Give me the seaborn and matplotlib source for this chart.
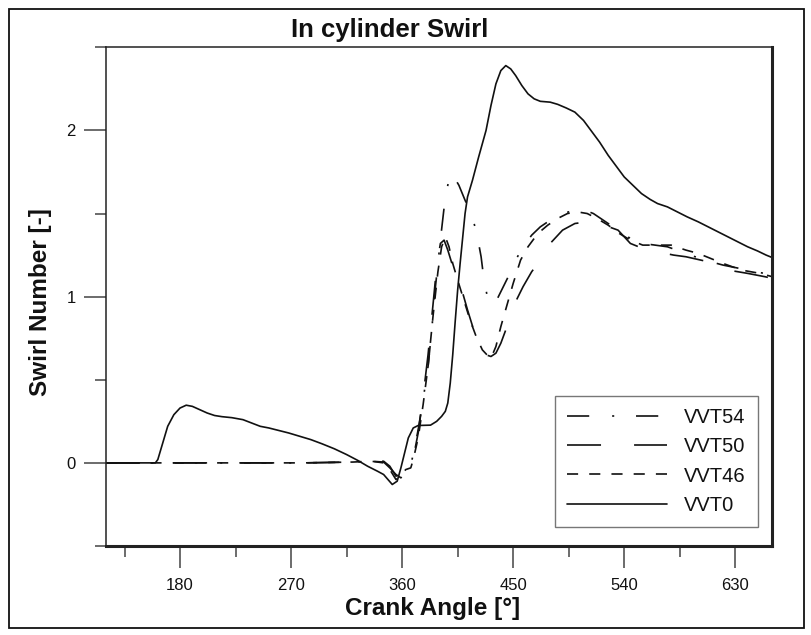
import numpy as np
import pandas as pd
import matplotlib
matplotlib.use("Agg")
import matplotlib.pyplot as plt
import seaborn as sns
from matplotlib.patches import Rectangle
from matplotlib.ticker import MultipleLocator

sns.set_theme(style="white")
plt.rcParams['font.family'] = ['Liberation Sans', 'DejaVu Sans']
plt.rcParams['lines.scale_dashes'] = False

# ---------------- data ----------------
vvt0_x = [120, 160, 162, 166, 170, 175, 180, 185, 190, 196, 202, 208, 214, 222, 231, 238, 245,
          252, 260, 268, 277, 286, 295, 305, 315, 324, 332, 340, 345, 352, 356, 359, 362, 365,
          369, 373, 383, 388, 392, 395, 397, 399, 401, 403, 405, 407, 409, 411, 413, 417, 422,
          428, 432, 436, 440, 444, 448, 452, 457, 462, 467, 472, 480, 486, 493, 500, 507, 513,
          520, 527, 534, 540, 547, 554, 561, 567, 575, 583, 591, 600, 608, 616, 624, 632, 640,
          648, 655, 660]
vvt0_y = [0.0, 0.0, 0.02, 0.12, 0.22, 0.29, 0.33, 0.347, 0.34, 0.32, 0.30, 0.285, 0.278, 0.272,
          0.26, 0.24, 0.22, 0.21, 0.195, 0.18, 0.16, 0.14, 0.115, 0.085, 0.05, 0.015, -0.02,
          -0.05, -0.07, -0.13, -0.11, -0.03, 0.06, 0.15, 0.21, 0.225, 0.227, 0.25, 0.28, 0.31,
          0.36, 0.48, 0.65, 0.85, 1.04, 1.2, 1.35, 1.5, 1.6, 1.70, 1.84, 2.0, 2.15, 2.28, 2.36,
          2.39, 2.37, 2.33, 2.27, 2.22, 2.19, 2.175, 2.17, 2.157, 2.135, 2.11, 2.06, 2.0, 1.93,
          1.85, 1.78, 1.72, 1.67, 1.62, 1.585, 1.56, 1.54, 1.51, 1.48, 1.45, 1.42, 1.39, 1.36,
          1.33, 1.30, 1.275, 1.25, 1.235]

vvt54_x = [120, 200, 280, 320, 335, 345, 350, 355, 359, 363, 367, 369, 373, 377, 381, 384, 387,
           391, 395, 399, 402, 406, 411, 417, 421, 424, 426, 429, 433, 436, 440, 446, 452, 458,
           465, 472, 480, 490, 500, 508, 515, 525, 535, 545, 555, 565, 575, 590, 605, 620, 640,
           660]
vvt54_y = [0.0, 0.0, 0.0, 0.005, 0.01, 0.01, -0.02, -0.08, -0.06, -0.03, -0.01, 0.05, 0.2,
           0.38, 0.58, 0.8, 1.06, 1.34, 1.60, 1.74, 1.72, 1.67, 1.58, 1.48, 1.36, 1.24, 1.12,
           1.0, 0.95, 0.97, 1.03, 1.12, 1.22, 1.30, 1.37, 1.42, 1.46, 1.50, 1.52, 1.52, 1.50,
           1.45, 1.40, 1.35, 1.32, 1.31, 1.30, 1.26, 1.22, 1.19, 1.16, 1.13]

vvt50_x = [120, 200, 280, 320, 335, 345, 350, 355, 359, 363, 367, 369, 373, 377, 381, 385, 388,
           391, 394, 397, 402, 408, 413, 418, 423, 428, 432, 436, 440, 446, 452, 458, 465, 472,
           480, 490, 500, 510, 520, 535, 545, 555, 567, 580, 590, 608, 624, 640, 654, 660]
vvt50_y = [0.0, 0.0, 0.0, 0.005, 0.01, 0.005, -0.03, -0.07, -0.09, -0.05, -0.02, 0.03, 0.18,
           0.4, 0.65, 0.95, 1.18, 1.32, 1.34, 1.28, 1.16, 1.05, 0.92, 0.8, 0.7, 0.65, 0.64, 0.66,
           0.72, 0.84, 0.97, 1.06, 1.15, 1.22, 1.32, 1.40, 1.44, 1.45, 1.44, 1.40, 1.32, 1.29,
           1.27, 1.25, 1.24, 1.21, 1.16, 1.14, 1.12, 1.11]

vvt46_x = [120, 200, 280, 320, 335, 345, 350, 355, 359, 363, 367, 369, 373, 377, 381, 385, 389,
           392, 395, 398, 401, 405, 410, 415, 420, 425, 430, 432, 436, 440, 445, 450, 456, 462,
           470, 478, 486, 494, 502, 510, 518, 527, 536, 545, 555, 565, 578, 590, 600, 610, 620,
           635, 650, 660]
vvt46_y = [0.0, 0.0, 0.0, 0.005, 0.01, 0.0, -0.04, -0.1, -0.07, -0.04, -0.03, 0.02, 0.15, 0.35,
           0.58, 0.88, 1.15, 1.30, 1.36, 1.30, 1.20, 1.10, 0.98, 0.86, 0.76, 0.68, 0.64, 0.63,
           0.70, 0.82, 0.95, 1.08, 1.22, 1.30, 1.38, 1.43, 1.47, 1.50, 1.51, 1.50, 1.47, 1.43,
           1.38, 1.34, 1.31, 1.31, 1.31, 1.28, 1.26, 1.23, 1.20, 1.16, 1.14, 1.12]

series_names = ["VVT54", "VVT50", "VVT46", "VVT0"]
series_x = [vvt54_x, vvt50_x, vvt46_x, vvt0_x]
series_y = [vvt54_y, vvt50_y, vvt46_y, vvt0_y]

x_ticks = [180, 270, 360, 450, 540, 630]
y_ticks = [0, 1, 2]

# ---------------- styles ----------------
line_styles = {
    "VVT54": (0, (16, 16.5, 1.5, 15.7)),
    "VVT50": (0, (24.5, 23.8)),
    "VVT46": (0, (8, 8)),
    "VVT0": "-",
}

fig = plt.figure(figsize=(8.11, 6.35), dpi=100)
ax = fig.add_axes([106 / 811, 1 - 546 / 635, (772.3 - 106) / 811, (546 - 47.3) / 635])

for name, xs, ys in zip(series_names, series_x, series_y):
    df = pd.DataFrame({"angle": xs, "swirl": ys})
    sns.lineplot(data=df, x="angle", y="swirl", ax=ax, color="#111111", linewidth=1.2,
                 linestyle=line_styles[name], label=name, sort=True, estimator=None)

ax.set_xlim(120, 660)
ax.set_ylim(-0.5, 2.5)
ax.set_xticks(x_ticks)
ax.set_xticklabels([str(t) for t in x_ticks])
ax.set_yticks(y_ticks)
ax.set_yticklabels([str(t) for t in y_ticks])
ax.xaxis.set_minor_locator(MultipleLocator(45))
ax.yaxis.set_minor_locator(MultipleLocator(0.5))
ax.tick_params(axis="both", which="major", direction="out", length=15.8, width=1.1,
               color="#444444", labelsize=12, labelcolor="#111111")
ax.tick_params(axis="x", which="major", pad=7.5)
ax.tick_params(axis="y", which="major", pad=6)
ax.tick_params(axis="both", which="minor", direction="out", length=7.9, width=1.1,
               color="#444444")
ax.tick_params(axis="x", which="both", bottom=True, top=False)
ax.tick_params(axis="y", which="both", left=True, right=False)

for s in ["left", "top"]:
    ax.spines[s].set_linewidth(1.1)
    ax.spines[s].set_color("#222222")
for s in ["right", "bottom"]:
    ax.spines[s].set_linewidth(2.2)
    ax.spines[s].set_color("#222222")

ax.set_xlabel("Crank Angle [°]", fontsize=17.5, fontweight="bold", color="#111111")
ax.set_ylabel("Swirl Number [-]", fontsize=17.5, fontweight="bold", color="#111111")
ax.xaxis.set_label_coords(0.4905, -0.103)
ax.yaxis.set_label_coords(-0.081, 0.49)

fig.text(390 / 811, 1 - 29.5 / 635, "In cylinder Swirl", ha="center", va="center",
         fontsize=18.5, fontweight="bold", color="#111111")

leg = ax.legend(loc="lower right", bbox_to_anchor=(0.978, 0.0387), fontsize=14.5,
                handlelength=4.97, handletextpad=0.85, labelspacing=0.5, borderpad=0.6,
                fancybox=False, frameon=True, borderaxespad=0)
leg.get_frame().set_edgecolor("#555555")
leg.get_frame().set_linewidth(1.0)
for t in leg.get_texts():
    t.set_color("#111111")

# outer figure frame
fig.patches.append(Rectangle((9 / 811, 1 - 628 / 635), (804 - 9) / 811, (628 - 9) / 635,
                             transform=fig.transFigure, fill=False, edgecolor="#111111",
                             linewidth=1.3))

fig.savefig("out.png", dpi=100)
